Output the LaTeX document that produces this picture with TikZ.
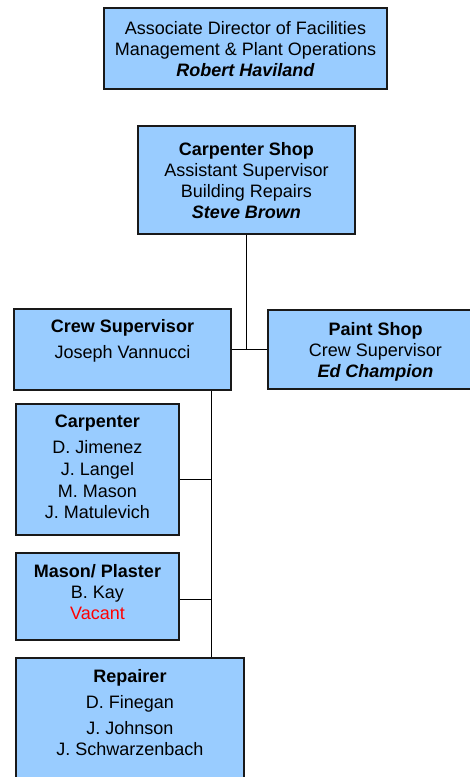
\documentclass[tikz,border=0pt]{standalone}
\usepackage{fontspec}
\setmainfont{Liberation Sans}
\usetikzlibrary{positioning}
\definecolor{boxblue}{HTML}{99CCFF}
\definecolor{vacantred}{HTML}{FF0000}

\begin{document}
\begin{tikzpicture}[x=1pt,y=-1pt,
 box/.style={draw=black!90,fill=boxblue,line width=2pt,inner sep=0pt},
 txt/.style={align=center,inner sep=0pt,font=\fontsize{18}{21}\selectfont},
 link/.style={draw,line width=1pt}]
\useasboundingbox (0,0) rectangle (469,777);
% boxes
\node[box,minimum width=283pt,minimum height=81pt] (dir) at (245.5,48.5) {};
\node[box,minimum width=217pt,minimum height=108pt] (cshop) at (246.5,180) {};
\node[box,minimum width=217pt,minimum height=81pt] (crew) at (122.5,349.5) {};
\node[box,minimum width=215pt,minimum height=79pt] (paint) at (375.5,349.5) {};
\node[box,minimum width=163pt,minimum height=131pt] (carp) at (97.5,469.5) {};
\node[box,minimum width=163pt,minimum height=87pt] (mason) at (97.5,596.5) {};
\node[box,minimum width=228pt,minimum height=132pt] (rep) at (130,724) {};
% texts
\node[txt,below=14.5pt of dir.north] (dirtxt) {Associate Director of Facilities\\
Management \& Plant Operations\\\textbf{\textit{Robert Haviland}}};
\node[txt,below=17pt of cshop.north] (cshoptxt) {\textbf{Carpenter Shop}\\
Assistant Supervisor\\Building Repairs\\\textbf{\textit{Steve Brown}}};
\node[txt,below=11.5pt of crew.north] (crewtxt) {\textbf{Crew Supervisor}\\[5pt]
Joseph Vannucci};
\node[txt,below=13pt of paint.north] (painttxt) {\textbf{Paint Shop}\\
Crew Supervisor\\\textbf{\textit{Ed Champion}}};
\node[txt,below=12pt of carp.north] (carptxt) {\textbf{Carpenter}\\[5pt]
D. Jimenez\\[0.5pt]J. Langel\\[1pt]M. Mason\\[0.5pt]J. Matulevich};
\node[txt,below=12pt of mason.north] (masontxt) {\textbf{Mason/ Plaster}\\
B. Kay\\\textcolor{vacantred}{Vacant}};
\node[txt,below=12pt of rep.north] (reptxt) {\textbf{Repairer}\\[5pt]
D. Finegan\\[5pt]J. Johnson\\J. Schwarzenbach};
% connectors
\coordinate (trunk) at (211.5,0);
\draw[link] (cshop.south) -- (cshop.south |- crew.east);
\draw[link] (crew.east) -- (paint.west);
\draw[link] (crew.south -| trunk) -- (rep.north -| trunk);
\draw[link] ([yshift=-10pt]carp.east) -- ([yshift=-10pt]carp.east -| trunk);
\draw[link] ([yshift=-3pt]mason.east) -- ([yshift=-3pt]mason.east -| trunk);
\end{tikzpicture}
\end{document}
